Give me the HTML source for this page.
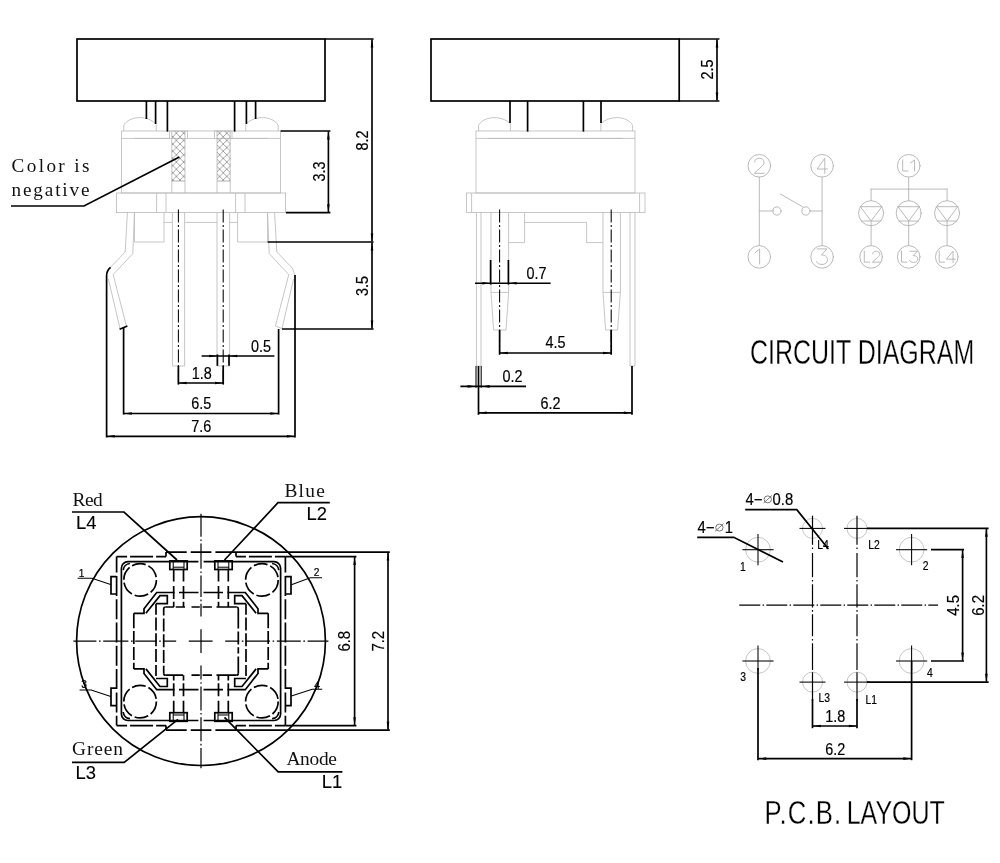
<!DOCTYPE html>
<html><head><meta charset="utf-8"><title>Tact switch drawing</title>
<style>
html,body{margin:0;padding:0;background:#fff;}
body{width:1000px;height:863px;overflow:hidden;font-family:"Liberation Sans",sans-serif;}
svg{display:block;filter:grayscale(1);}
.k{fill:none;stroke:#000;stroke-width:1.7;stroke-linecap:butt;stroke-linejoin:miter;}
.kt{fill:none;stroke:#000;stroke-width:1.05;}
.cl{fill:none;stroke:#000;stroke-width:1.2;}
.d{fill:none;stroke:#000;stroke-width:1.65;}
.g{fill:none;stroke:#bcbcbc;stroke-width:0.85;}
.h{fill:none;stroke:#909090;stroke-width:0.7;}
.c{fill:none;stroke:#b2b2b2;stroke-width:0.9;stroke-linecap:round;stroke-linejoin:round;}
.a{fill:#000;stroke:none;}
.t{font-family:"Liberation Sans",sans-serif;fill:#000;stroke:#000;stroke-width:0.18;}
.tn{font-family:"Liberation Sans",sans-serif;fill:#000;stroke:#000;stroke-width:0.12;}
.tt{font-family:"Liberation Sans",sans-serif;fill:#000;stroke:#fff;stroke-width:0.3;paint-order:fill stroke;}
.s{font-family:"Liberation Serif",serif;fill:#111;}
</style></head><body>
<svg width="1000" height="863" viewBox="0 0 1000 863">
<rect x="0" y="0" width="1000" height="863" fill="#fff"/>
<g id="v1">
<defs><pattern id="xh" width="7.2" height="7.2" patternUnits="userSpaceOnUse"><path d="M0,0 L7.2,7.2 M7.2,0 L0,7.2" stroke="#808080" stroke-width="0.7" fill="none"/></pattern></defs>
<path class="g" d="M123.8,131 V125.4 C126,120.6 133,117.6 139.6,117.6 C146,117.6 152.5,120 156.2,124.2 V131"/>
<path class="g" d="M278.2,131 V125.4 C276,120.6 269,117.6 262.4,117.6 C256,117.6 249.5,120 245.8,124.2 V131"/>
<rect class="g" x="121.4" y="131" width="159.2" height="62"/>
<line class="g" x1="121.4" y1="138.4" x2="169.6" y2="138.4"/>
<line class="g" x1="134" y1="138.4" x2="169.6" y2="138.4"/>
<line class="g" x1="187.4" y1="138.4" x2="214.4" y2="138.4"/>
<line class="g" x1="232" y1="138.4" x2="280.6" y2="138.4"/>
<line class="g" x1="232" y1="138.4" x2="268" y2="138.4"/>
<rect class="g" x="169.6" y="131" width="17.8" height="7.4"/>
<rect class="g" x="214.4" y="131" width="17.6" height="7.4"/>
<line class="g" x1="171.8" y1="131" x2="171.8" y2="193"/>
<line class="g" x1="185" y1="131" x2="185" y2="193"/>
<line class="g" x1="217" y1="131" x2="217" y2="193"/>
<line class="g" x1="230.2" y1="131" x2="230.2" y2="193"/>
<rect x="171.8" y="131" width="13.2" height="50" fill="url(#xh)" stroke="none"/>
<rect x="217" y="131" width="13.2" height="50" fill="url(#xh)" stroke="none"/>
<line class="h" x1="171.8" y1="181" x2="185" y2="181"/>
<line class="h" x1="217" y1="181" x2="230.2" y2="181"/>
<rect class="g" x="116.4" y="193" width="169.2" height="19.6"/>
<line class="g" x1="156.6" y1="193" x2="156.6" y2="212.6"/>
<line class="g" x1="166" y1="193" x2="166" y2="212.6"/>
<line class="g" x1="235.6" y1="193" x2="235.6" y2="212.6"/>
<line class="g" x1="245" y1="193" x2="245" y2="212.6"/>
<path class="g" d="M134.4,212.6 L134.4,242 L164,242 L164,212.6"/>
<path class="g" d="M237.6,212.6 L237.6,242 L267.6,242 L267.6,212.6"/>
<line class="g" x1="164" y1="222.4" x2="172.4" y2="222.4"/>
<line class="g" x1="184.6" y1="222.4" x2="217" y2="222.4"/>
<line class="g" x1="229.6" y1="222.4" x2="237.6" y2="222.4"/>
<path class="g" d="M172.4,212.6 L172.4,366 L184.6,366 L184.6,212.6"/>
<path class="g" d="M217,212.6 L217,366 L229.6,366 L229.6,212.6"/>
<path class="g" d="M127.4,212.6 L125.2,252 L110.4,267.4"/>
<path class="g" d="M134.5,212.6 L132.8,253.6 L113.2,274.6 L126.4,326"/>
<path class="g" d="M108.4,279 L120,328.5"/>
<path class="g" d="M274.6,212.6 L276.8,252 L292.4,268.2 L295,275"/>
<path class="g" d="M267.5,212.6 L269.2,253.6 L288.8,274.6 L275.4,326"/>
<path class="g" d="M293.6,279 L282,328.5 L275.4,326"/>
<rect class="k" x="77" y="39" width="248" height="62"/>
<line class="k" x1="325" y1="39" x2="373.6" y2="39"/>
<line class="k" x1="146.4" y1="101" x2="146.4" y2="119"/>
<line class="k" x1="155.6" y1="101" x2="155.6" y2="124"/>
<line class="k" x1="167.4" y1="101" x2="167.4" y2="131.6"/>
<line class="k" x1="234.6" y1="101" x2="234.6" y2="131.6"/>
<line class="k" x1="246.4" y1="101" x2="246.4" y2="124"/>
<line class="k" x1="255.6" y1="101" x2="255.6" y2="119"/>
<path class="k" d="M11,206 L84,206 L179.4,157"/>
<text class="s" x="11.5" y="172.4" font-size="19.2" textLength="78" lengthAdjust="spacing" xml:space="preserve">Color is</text>
<text class="s" x="11.5" y="195.6" font-size="19.2" textLength="78" lengthAdjust="spacing" xml:space="preserve">negative</text>
<path class="k" d="M110.6,267.4 Q106.6,270.5 106.6,276 V437.6"/>
<path class="k" d="M119.6,329.2 L127.4,326"/>
<line class="k" x1="123.6" y1="328" x2="123.6" y2="414.6"/>
<line class="k" x1="295" y1="275" x2="295" y2="437.6"/>
<line class="k" x1="278.6" y1="329" x2="278.6" y2="414.6"/>
<line class="kt" x1="178.4" y1="209.6" x2="178.4" y2="384.4" stroke-dasharray="13 2.5 2 2.5"/>
<line class="kt" x1="223.2" y1="209.6" x2="223.2" y2="384.4" stroke-dasharray="13 2.5 2 2.5"/>
<line class="k" x1="178.4" y1="366" x2="178.4" y2="384.6"/>
<line class="k" x1="223.2" y1="366" x2="223.2" y2="384.6"/>
<line class="k" x1="280.6" y1="131" x2="330.4" y2="131"/>
<line class="k" x1="286" y1="212.6" x2="330.4" y2="212.6"/>
<line class="d" x1="328.4" y1="131.4" x2="328.4" y2="212.2"/>
<path class="a" d="M328.4,131.4 L329.7,139.4 L327.1,139.4 Z"/>
<path class="a" d="M328.4,212.2 L327.1,204.2 L329.7,204.2 Z"/>
<text class="t" transform="translate(324.8,171.5) rotate(-90) scale(0.9,1)" font-size="16" text-anchor="middle">3.3</text>
<line class="k" x1="267.6" y1="242" x2="373.6" y2="242"/>
<line class="k" x1="282" y1="329" x2="373.6" y2="329"/>
<line class="d" x1="372" y1="39.4" x2="372" y2="241.6"/>
<path class="a" d="M372,39.4 L373.3,47.4 L370.7,47.4 Z"/>
<path class="a" d="M372,241.6 L370.7,233.6 L373.3,233.6 Z"/>
<line class="d" x1="372" y1="242.4" x2="372" y2="328.6"/>
<path class="a" d="M372,242.4 L373.3,250.4 L370.7,250.4 Z"/>
<path class="a" d="M372,328.6 L370.7,320.6 L373.3,320.6 Z"/>
<text class="t" transform="translate(367.8,140.5) rotate(-90) scale(0.9,1)" font-size="16" text-anchor="middle">8.2</text>
<text class="t" transform="translate(367.8,286) rotate(-90) scale(0.9,1)" font-size="16" text-anchor="middle">3.5</text>
<line class="k" x1="217.4" y1="354.4" x2="217.4" y2="365.8"/>
<line class="k" x1="229" y1="354.4" x2="229" y2="365.8"/>
<line class="d" x1="201.6" y1="356" x2="274.4" y2="356"/>
<path class="a" d="M217.2,356 L209.2,357.3 L209.2,354.7 Z"/>
<path class="a" d="M229.2,356 L237.2,354.7 L237.2,357.3 Z"/>
<text class="t" transform="translate(261,351.6) scale(0.9,1)" font-size="16" text-anchor="middle">0.5</text>
<line class="d" x1="178.6" y1="383" x2="223" y2="383"/>
<path class="a" d="M178.6,383 L186.6,381.7 L186.6,384.3 Z"/>
<path class="a" d="M223,383 L215,384.3 L215,381.7 Z"/>
<text class="t" transform="translate(201.8,379) scale(0.9,1)" font-size="16" text-anchor="middle">1.8</text>
<line class="d" x1="123.8" y1="413.5" x2="278.4" y2="413.5"/>
<path class="a" d="M123.8,413.5 L131.8,412.2 L131.8,414.8 Z"/>
<path class="a" d="M278.4,413.5 L270.4,414.8 L270.4,412.2 Z"/>
<text class="t" transform="translate(201.2,408.8) scale(0.9,1)" font-size="16" text-anchor="middle">6.5</text>
<line class="d" x1="106.8" y1="436.3" x2="294.8" y2="436.3"/>
<path class="a" d="M106.8,436.3 L114.8,435 L114.8,437.6 Z"/>
<path class="a" d="M294.8,436.3 L286.8,437.6 L286.8,435 Z"/>
<text class="t" transform="translate(201.2,432) scale(0.9,1)" font-size="16" text-anchor="middle">7.6</text>
</g>
<g id="v2">
<path class="g" d="M478.6,131 V125.4 C480.8,120.6 487.6,117.6 494.2,117.6 C500.4,117.6 506.6,119.8 510,123.4"/>
<path class="g" d="M632.6,131 V125.4 C630.4,120.6 623.6,117.6 617,117.6 C610.8,117.6 604.6,119.8 601.2,123.4"/>
<line class="g" x1="510.4" y1="123.4" x2="510.4" y2="131"/>
<line class="g" x1="600.8" y1="123.4" x2="600.8" y2="131"/>
<rect class="g" x="476" y="131" width="159" height="62"/>
<line class="g" x1="476" y1="138.4" x2="635" y2="138.4"/>
<line class="g" x1="488" y1="138.4" x2="623" y2="138.4"/>
<rect class="g" x="466.4" y="193" width="178.6" height="19.4"/>
<line class="g" x1="471.6" y1="193" x2="471.6" y2="212.4"/>
<line class="g" x1="639.6" y1="193" x2="639.6" y2="212.4"/>
<path class="g" d="M476.4,212.4 L476.4,366 L481,366 L481,212.4"/>
<path class="g" d="M630,212.4 L630,366 L635,366 L635,212.4"/>
<path class="g" d="M491,212.4 L491,292.4 L493.6,330 L506,330 L508.6,292.4 L508.6,212.4"/>
<line class="g" x1="491" y1="292.4" x2="508.6" y2="292.4"/>
<path class="g" d="M603,212.4 L603,292.4 L605.6,330 L617.6,330 L620.4,292.4 L620.4,212.4"/>
<line class="g" x1="603" y1="292.4" x2="620.4" y2="292.4"/>
<path class="g" d="M508.6,242.6 L524.6,242.6 L524.6,212.4"/>
<path class="g" d="M524.6,222.4 L586.6,222.4 L586.6,242.6 L603,242.6"/>
<rect class="k" x="431" y="39" width="248.2" height="62"/>
<line class="k" x1="679.2" y1="39" x2="719.4" y2="39"/>
<line class="k" x1="679.2" y1="101" x2="719.4" y2="101"/>
<line class="d" x1="717" y1="39.4" x2="717" y2="100.6"/>
<path class="a" d="M717,39.4 L718.3,47.4 L715.7,47.4 Z"/>
<path class="a" d="M717,100.6 L715.7,92.6 L718.3,92.6 Z"/>
<text class="t" transform="translate(713,69.6) rotate(-90) scale(0.9,1)" font-size="16" text-anchor="middle">2.5</text>
<line class="k" x1="510" y1="101" x2="510" y2="123"/>
<line class="k" x1="527.6" y1="101" x2="527.6" y2="131.6"/>
<line class="k" x1="583.4" y1="101" x2="583.4" y2="131.6"/>
<line class="k" x1="601" y1="101" x2="601" y2="123"/>
<line class="kt" x1="499.6" y1="209.4" x2="499.6" y2="354.4" stroke-dasharray="13 2.5 2 2.5"/>
<line class="kt" x1="611.2" y1="209.4" x2="611.2" y2="354.4" stroke-dasharray="13 2.5 2 2.5"/>
<line class="k" x1="499.6" y1="330" x2="499.6" y2="354.6"/>
<line class="k" x1="611.2" y1="330" x2="611.2" y2="354.6"/>
<line class="k" x1="490.6" y1="260" x2="490.6" y2="284.6"/>
<line class="k" x1="508.4" y1="260" x2="508.4" y2="284.6"/>
<line class="d" x1="475" y1="283.2" x2="550.6" y2="283.2"/>
<path class="a" d="M490.4,283.2 L482.4,284.5 L482.4,281.9 Z"/>
<path class="a" d="M508.6,283.2 L516.6,281.9 L516.6,284.5 Z"/>
<text class="t" transform="translate(536.6,279) scale(0.9,1)" font-size="16" text-anchor="middle">0.7</text>
<line class="d" x1="499.8" y1="353" x2="611" y2="353"/>
<path class="a" d="M499.8,353 L507.8,351.7 L507.8,354.3 Z"/>
<path class="a" d="M611,353 L603,354.3 L603,351.7 Z"/>
<text class="t" transform="translate(555.6,348.4) scale(0.9,1)" font-size="16" text-anchor="middle">4.5</text>
<line class="kt" x1="476" y1="366" x2="476" y2="387.8"/>
<line class="kt" x1="478.5" y1="366" x2="478.5" y2="387.8"/>
<line class="kt" x1="481.2" y1="366" x2="481.2" y2="387.8"/>
<line class="k" x1="478.5" y1="366" x2="478.5" y2="414.8"/>
<line class="k" x1="632" y1="366" x2="632" y2="414.8"/>
<line class="d" x1="460.4" y1="386.4" x2="526" y2="386.4"/>
<path class="a" d="M475.6,386.4 L467.6,387.7 L467.6,385.1 Z"/>
<path class="a" d="M481.6,386.4 L489.6,385.1 L489.6,387.7 Z"/>
<text class="t" transform="translate(512.6,382.3) scale(0.9,1)" font-size="16" text-anchor="middle">0.2</text>
<line class="d" x1="478.7" y1="412.8" x2="631.8" y2="412.8"/>
<path class="a" d="M478.7,412.8 L486.7,411.5 L486.7,414.1 Z"/>
<path class="a" d="M631.8,412.8 L623.8,414.1 L623.8,411.5 Z"/>
<text class="t" transform="translate(550.4,408.7) scale(0.9,1)" font-size="16" text-anchor="middle">6.2</text>
</g>
<g id="cir">
<circle class="c" cx="759.3" cy="165.8" r="11.3"/>
<circle class="c" cx="759.3" cy="256.9" r="11.3"/>
<circle class="c" cx="822.1" cy="165.8" r="11.3"/>
<circle class="c" cx="822.1" cy="256.9" r="11.3"/>
<line class="c" x1="759.3" y1="177.1" x2="759.3" y2="245.6"/>
<line class="c" x1="822.1" y1="177.1" x2="822.1" y2="245.6"/>
<line class="c" x1="759.3" y1="211" x2="772.9" y2="211"/>
<circle class="c" cx="777" cy="211" r="4.1"/>
<circle class="c" cx="806" cy="211" r="4.1"/>
<line class="c" x1="810.1" y1="211" x2="822.1" y2="211"/>
<line class="c" x1="780.4" y1="194" x2="803.3" y2="207.2"/>
<path class="c" transform="translate(754.3,158.3) scale(1,1)" vector-effect="non-scaling-stroke" d="M0.4,3.6 C0.4,1.2 2.4,0 5,0 C7.8,0 9.7,1.6 9.7,4 C9.7,6 8.4,7.4 0,15 H10"/>
<path class="c" transform="translate(817.1,158.3) scale(1.04,1.01)" vector-effect="non-scaling-stroke" d="M7.4,15 V0 L0,10.6 H10"/>
<path class="c" transform="translate(755.2,248.9) scale(1,1.01)" vector-effect="non-scaling-stroke" d="M0,3.8 L4.4,0 V15"/>
<path class="c" transform="translate(816.6,248.9) scale(1.08,1.04)" vector-effect="non-scaling-stroke" d="M0.6,0 H9.6 L4.4,5.9 C7.8,5.6 10,7.6 10,10.4 C10,13.2 8,15 5,15 C2.6,15 0.8,14 0,12.2"/>
<circle class="c" cx="908.7" cy="165.8" r="11.3"/>
<line class="c" x1="908.7" y1="177.1" x2="908.7" y2="189.1"/>
<line class="c" x1="871.1" y1="189.1" x2="947.1" y2="189.1"/>
<circle class="c" cx="871.1" cy="213.2" r="12.5"/>
<line class="c" x1="871.1" y1="189.1" x2="871.1" y2="200.7"/>
<line class="c" x1="860.42" y1="206.7" x2="881.78" y2="206.7"/>
<line class="c" x1="861.33" y1="221" x2="880.87" y2="221"/>
<path class="c" d="M860.42,206.7 L871.1,221 L881.78,206.7"/>
<line class="c" x1="871.1" y1="221" x2="871.1" y2="245.6"/>
<circle class="c" cx="908.7" cy="213.2" r="12.5"/>
<line class="c" x1="908.7" y1="189.1" x2="908.7" y2="200.7"/>
<line class="c" x1="898.02" y1="206.7" x2="919.38" y2="206.7"/>
<line class="c" x1="898.93" y1="221" x2="918.47" y2="221"/>
<path class="c" d="M898.02,206.7 L908.7,221 L919.38,206.7"/>
<line class="c" x1="908.7" y1="221" x2="908.7" y2="245.6"/>
<circle class="c" cx="947.1" cy="213.2" r="12.5"/>
<line class="c" x1="947.1" y1="189.1" x2="947.1" y2="200.7"/>
<line class="c" x1="936.42" y1="206.7" x2="957.78" y2="206.7"/>
<line class="c" x1="937.33" y1="221" x2="956.87" y2="221"/>
<path class="c" d="M936.42,206.7 L947.1,221 L957.78,206.7"/>
<line class="c" x1="947.1" y1="221" x2="947.1" y2="245.6"/>
<circle class="c" cx="871.1" cy="256.9" r="11.3"/>
<circle class="c" cx="908.7" cy="256.9" r="11.3"/>
<circle class="c" cx="946.8" cy="256.9" r="11.3"/>
<path class="c" transform="translate(902.7,160) scale(0.53,0.73)" vector-effect="non-scaling-stroke" d="M0,0 V15 H10"/>
<path class="c" transform="translate(910.4,160) scale(0.95,0.73)" vector-effect="non-scaling-stroke" d="M0,3.8 L4.4,0 V15"/>
<path class="c" transform="translate(864.3,251.2) scale(0.53,0.73)" vector-effect="non-scaling-stroke" d="M0,0 V15 H10"/>
<path class="c" transform="translate(872.3,251.2) scale(0.78,0.73)" vector-effect="non-scaling-stroke" d="M0.4,3.6 C0.4,1.2 2.4,0 5,0 C7.8,0 9.7,1.6 9.7,4 C9.7,6 8.4,7.4 0,15 H10"/>
<path class="c" transform="translate(901.5,251.2) scale(0.53,0.73)" vector-effect="non-scaling-stroke" d="M0,0 V15 H10"/>
<path class="c" transform="translate(909.5,251.2) scale(0.83,0.75)" vector-effect="non-scaling-stroke" d="M0.6,0 H9.6 L4.4,5.9 C7.8,5.6 10,7.6 10,10.4 C10,13.2 8,15 5,15 C2.6,15 0.8,14 0,12.2"/>
<path class="c" transform="translate(939.2,251.2) scale(0.53,0.73)" vector-effect="non-scaling-stroke" d="M0,0 V15 H10"/>
<path class="c" transform="translate(946.4,251.2) scale(0.9,0.75)" vector-effect="non-scaling-stroke" d="M7.4,15 V0 L0,10.6 H10"/>
<text class="tt" transform="translate(750,364.2) scale(0.73,1)" font-size="34.2" text-anchor="start" id="t_cd">CIRCUIT DIAGRAM</text>
</g>
<g id="v3">
<circle class="k" cx="201" cy="641.1" r="124.4"/>
<line class="k" x1="166" y1="552.1" x2="236" y2="552.1" stroke-dasharray="20.7 4"/>
<line class="k" x1="166" y1="552.1" x2="166" y2="556.6"/>
<line class="k" x1="116.6" y1="556.6" x2="166" y2="556.6" stroke-dasharray="10.5 3 23 3 10"/>
<line class="k" x1="236" y1="552.1" x2="236" y2="556.6"/>
<line class="k" x1="285.4" y1="556.6" x2="236" y2="556.6" stroke-dasharray="10.5 3 23 3 10"/>
<line class="k" x1="166" y1="730.1" x2="236" y2="730.1" stroke-dasharray="20.7 4"/>
<line class="k" x1="166" y1="730.1" x2="166" y2="725.6"/>
<line class="k" x1="116.6" y1="725.6" x2="166" y2="725.6" stroke-dasharray="10.5 3 23 3 10"/>
<line class="k" x1="236" y1="730.1" x2="236" y2="725.6"/>
<line class="k" x1="285.4" y1="725.6" x2="236" y2="725.6" stroke-dasharray="10.5 3 23 3 10"/>
<line class="k" x1="116.6" y1="556.6" x2="116.6" y2="725.6" stroke-dasharray="20 3.3" stroke-dashoffset="4"/>
<line class="k" x1="285.4" y1="556.6" x2="285.4" y2="725.6" stroke-dasharray="20 3.3" stroke-dashoffset="4"/>
<path class="k" d="M127.9,561.7 H274.1 A6.5,6.5 0 0 1 280.6,568.2 V714 A6.5,6.5 0 0 1 274.1,720.5 H127.9 A6.5,6.5 0 0 1 121.4,714 V568.2 A6.5,6.5 0 0 1 127.9,561.7 Z"/>
<line x1="198.4" y1="561.7" x2="203.6" y2="561.7" stroke="#fff" stroke-width="3"/>
<line x1="198.4" y1="720.5" x2="203.6" y2="720.5" stroke="#fff" stroke-width="3"/>
<line class="cl" x1="73.4" y1="641.1" x2="328.4" y2="641.1" stroke-dasharray="23 2.6 1.6 2.6 25.2 2.6 1.6 2.6 21.4 2.6 1.6 2.6 12.8 12.6 23.8 12.6 14 2.6 1.6 2.6 24 2.6 1.6 2.6 24 2.6 1.6 2.6 21"/>
<line class="cl" x1="201" y1="513.8" x2="201" y2="768.2" stroke-dasharray="23 2.6 1.6 2.6 25.2 2.6 1.6 2.6 21.4 2.6 1.6 2.6 12.8 12.6 23.8 12.6 14 2.6 1.6 2.6 24 2.6 1.6 2.6 24 2.6 1.6 2.6 21"/>
<path class="k" d="M278.8,712 A7.5,7.5 0 0 1 272.1,718.7"/>
<circle class="k" cx="140.1" cy="579.9" r="16.3" stroke-dasharray="14 3"/>
<rect class="k" x="214.8" y="712.7" width="17.4" height="8.6"/>
<line class="kt" x1="228.8" y1="721.3" x2="228.8" y2="712.7"/>
<line class="kt" x1="218" y1="721.3" x2="218" y2="712.7"/>
<line class="kt" x1="228.8" y1="715" x2="218" y2="715"/>
<line class="k" x1="228.3" y1="712.7" x2="228.3" y2="675.2" stroke-dasharray="12 4.5 13 2.8 13 2.8"/>
<line class="k" x1="218.5" y1="712.7" x2="218.5" y2="675.2" stroke-dasharray="12 4.5 13 2.8 13 2.8"/>
<path class="k" d="M268.2,668.9 L258,668.9 L258,673.4 L245.3,689.7 L227.5,689.7"/>
<path class="k" d="M256.1,668.9 L242,686.5 L234.7,686.5 L234.7,678.5 L246,678.5"/>
<path class="k" d="M285.4,705.6 L291,705.6 L291,688.2 L285.4,688.2"/>
<path class="k" d="M278.8,570.2 A7.5,7.5 0 0 0 272.1,563.5"/>
<circle class="k" cx="140.1" cy="701.6" r="16.3" stroke-dasharray="14 3"/>
<rect class="k" x="214.8" y="560.9" width="17.4" height="8.6"/>
<line class="kt" x1="228.8" y1="560.9" x2="228.8" y2="569.5"/>
<line class="kt" x1="218" y1="560.9" x2="218" y2="569.5"/>
<line class="kt" x1="228.8" y1="567.2" x2="218" y2="567.2"/>
<line class="k" x1="228.3" y1="569.5" x2="228.3" y2="607" stroke-dasharray="12 4.5 13 2.8 13 2.8"/>
<line class="k" x1="218.5" y1="569.5" x2="218.5" y2="607" stroke-dasharray="12 4.5 13 2.8 13 2.8"/>
<path class="k" d="M268.2,613.3 L258,613.3 L258,608.8 L245.3,592.5 L227.5,592.5"/>
<path class="k" d="M256.1,613.3 L242,595.7 L234.7,595.7 L234.7,603.7 L246,603.7"/>
<path class="k" d="M285.4,576.6 L291,576.6 L291,594 L285.4,594"/>
<path class="k" d="M123.2,712 A7.5,7.5 0 0 0 129.9,718.7"/>
<circle class="k" cx="261.9" cy="579.9" r="16.3" stroke-dasharray="14 3"/>
<rect class="k" x="169.8" y="712.7" width="17.4" height="8.6"/>
<line class="kt" x1="173.2" y1="721.3" x2="173.2" y2="712.7"/>
<line class="kt" x1="184" y1="721.3" x2="184" y2="712.7"/>
<line class="kt" x1="173.2" y1="715" x2="184" y2="715"/>
<line class="k" x1="173.7" y1="712.7" x2="173.7" y2="675.2" stroke-dasharray="12 4.5 13 2.8 13 2.8"/>
<line class="k" x1="183.5" y1="712.7" x2="183.5" y2="675.2" stroke-dasharray="12 4.5 13 2.8 13 2.8"/>
<path class="k" d="M133.8,668.9 L144,668.9 L144,673.4 L156.7,689.7 L174.5,689.7"/>
<path class="k" d="M145.9,668.9 L160,686.5 L167.3,686.5 L167.3,678.5 L156,678.5"/>
<path class="k" d="M116.6,705.6 L111,705.6 L111,688.2 L116.6,688.2"/>
<path class="k" d="M123.2,570.2 A7.5,7.5 0 0 1 129.9,563.5"/>
<circle class="k" cx="261.9" cy="701.6" r="16.3" stroke-dasharray="14 3"/>
<rect class="k" x="169.8" y="560.9" width="17.4" height="8.6"/>
<line class="kt" x1="173.2" y1="560.9" x2="173.2" y2="569.5"/>
<line class="kt" x1="184" y1="560.9" x2="184" y2="569.5"/>
<line class="kt" x1="173.2" y1="567.2" x2="184" y2="567.2"/>
<line class="k" x1="173.7" y1="569.5" x2="173.7" y2="607" stroke-dasharray="12 4.5 13 2.8 13 2.8"/>
<line class="k" x1="183.5" y1="569.5" x2="183.5" y2="607" stroke-dasharray="12 4.5 13 2.8 13 2.8"/>
<path class="k" d="M133.8,613.3 L144,613.3 L144,608.8 L156.7,592.5 L174.5,592.5"/>
<path class="k" d="M145.9,613.3 L160,595.7 L167.3,595.7 L167.3,603.7 L156,603.7"/>
<path class="k" d="M116.6,576.6 L111,576.6 L111,594 L116.6,594"/>
<line class="k" x1="174.5" y1="689.7" x2="227.5" y2="689.7" stroke-dasharray="0 4.5 19.5 5 19.5 4.5"/>
<line class="k" x1="174.5" y1="592.5" x2="227.5" y2="592.5" stroke-dasharray="0 4.5 19.5 5 19.5 4.5"/>
<line class="k" x1="165.7" y1="675.2" x2="236.3" y2="675.2" stroke-dasharray="17.5 8.3 8.3 2.8 9.3 4.6 19.9"/>
<line class="k" x1="165.7" y1="607" x2="236.3" y2="607" stroke-dasharray="8.2 1.8 9.3 6.5 8.3 2.8 9.3 4.6 19.9"/>
<line class="k" x1="238.3" y1="609" x2="238.3" y2="673.2" stroke-dasharray="19.6 2.8 13 2.8 6.4 2.8 16.8"/>
<path class="k" d="M238.3,673.2 A2,2 0 0 1 236.3,675.2"/>
<path class="k" d="M238.3,609 A2,2 0 0 0 236.3,607"/>
<line class="k" x1="268.2" y1="613.3" x2="268.2" y2="668.9" stroke-dasharray="15 2.8 13 2.8 13 2.8"/>
<line class="k" x1="246" y1="603.7" x2="246" y2="678.5" stroke-dasharray="11 2.8 13 2.8 13 2.8 13 2.8"/>
<line class="k" x1="163.7" y1="609" x2="163.7" y2="673.2" stroke-dasharray="6.6 2.8 13 2.8 13 2.8 13 2.8 7.5"/>
<path class="k" d="M163.7,673.2 A2,2 0 0 0 165.7,675.2"/>
<path class="k" d="M163.7,609 A2,2 0 0 1 165.7,607"/>
<line class="k" x1="133.8" y1="613.3" x2="133.8" y2="668.9" stroke-dasharray="15 2.8 13 2.8 13 2.8"/>
<line class="k" x1="156" y1="603.7" x2="156" y2="678.5" stroke-dasharray="11 2.8 13 2.8 13 2.8 13 2.8"/>
<line class="k" x1="236" y1="552.1" x2="389.8" y2="552.1"/>
<line class="k" x1="236" y1="730.1" x2="389.8" y2="730.1"/>
<line class="k" x1="285.4" y1="556.6" x2="356.4" y2="556.6"/>
<line class="k" x1="285.4" y1="725.6" x2="356.4" y2="725.6"/>
<line class="d" x1="354.6" y1="557" x2="354.6" y2="725.2"/>
<path class="a" d="M354.6,557 L355.9,565 L353.3,565 Z"/>
<path class="a" d="M354.6,725.2 L353.3,717.2 L355.9,717.2 Z"/>
<line class="d" x1="388" y1="552.5" x2="388" y2="729.7"/>
<path class="a" d="M388,552.5 L389.3,560.5 L386.7,560.5 Z"/>
<path class="a" d="M388,729.7 L386.7,721.7 L389.3,721.7 Z"/>
<text class="t" transform="translate(350.2,641.2) rotate(-90) scale(0.9,1)" font-size="16.6" text-anchor="middle">6.8</text>
<text class="t" transform="translate(384.2,641.2) rotate(-90) scale(0.9,1)" font-size="16.6" text-anchor="middle">7.2</text>
<text class="s" x="72.5" y="506" font-size="19.4" textLength="30.3" lengthAdjust="spacing" xml:space="preserve">Red</text>
<path class="k" d="M72,512 L124,512 L177,560"/>
<text class="tn" transform="translate(76,529)" font-size="18.4" text-anchor="start">L4</text>
<text class="s" x="284.4" y="497.1" font-size="19.4" textLength="40.4" lengthAdjust="spacing" xml:space="preserve">Blue</text>
<path class="k" d="M329.8,502.7 L278,502.7 L224.5,560"/>
<text class="tn" transform="translate(306.6,520)" font-size="18.4" text-anchor="start">L2</text>
<text class="s" x="72" y="755.3" font-size="19.4" textLength="51" lengthAdjust="spacing" xml:space="preserve">Green</text>
<path class="k" d="M72,762.4 L124.2,762.4 L178,719.4"/>
<text class="tn" transform="translate(75.4,778.5)" font-size="18.4" text-anchor="start">L3</text>
<text class="s" x="286.4" y="764.9" font-size="19.4" textLength="50.5" lengthAdjust="spacing" xml:space="preserve">Anode</text>
<path class="k" d="M342.4,771.9 L278.2,771.9 L224.5,717.4"/>
<text class="tn" transform="translate(321.8,788.1)" font-size="18.4" text-anchor="start">L1</text>
<text class="t" transform="translate(81.6,577.2) scale(0.9,1)" font-size="11.4" text-anchor="middle">1</text>
<path class="kt" d="M77.6,578.2 L92,578.2 L110.6,584.6"/>
<text class="t" transform="translate(316.6,576.4) scale(0.9,1)" font-size="11.4" text-anchor="middle">2</text>
<path class="kt" d="M322,577.8 L310.3,577.8 L291.4,584.7"/>
<text class="t" transform="translate(84.2,688) scale(0.9,1)" font-size="11.4" text-anchor="middle">3</text>
<path class="kt" d="M79.6,690 L91.2,690 L110.8,696.4"/>
<text class="t" transform="translate(317,688.6) scale(0.9,1)" font-size="11.4" text-anchor="middle">4</text>
<path class="kt" d="M322.2,689.2 L312.2,689.2 L291.4,696.1"/>
</g>
<g id="pcb">
<circle class="g" cx="758" cy="549.7" r="12.4"/>
<line class="kt" x1="742.4" y1="549.7" x2="773.6" y2="549.7"/>
<circle class="g" cx="911.6" cy="549.7" r="12.4"/>
<line class="kt" x1="896" y1="549.7" x2="927.2" y2="549.7"/>
<circle class="g" cx="758" cy="661" r="12.4"/>
<line class="kt" x1="742.4" y1="661" x2="773.6" y2="661"/>
<circle class="g" cx="911.6" cy="661" r="12.4"/>
<line class="kt" x1="896" y1="661" x2="927.2" y2="661"/>
<circle class="g" cx="812.5" cy="528.4" r="10"/>
<line class="kt" x1="799.5" y1="528.4" x2="825.5" y2="528.4"/>
<circle class="g" cx="857" cy="528.4" r="10"/>
<line class="kt" x1="844" y1="528.4" x2="870" y2="528.4"/>
<circle class="g" cx="812.5" cy="682.1" r="10"/>
<line class="kt" x1="799.5" y1="682.1" x2="825.5" y2="682.1"/>
<circle class="g" cx="857" cy="682.1" r="10"/>
<line class="kt" x1="844" y1="682.1" x2="870" y2="682.1"/>
<line class="kt" x1="758" y1="534" x2="758" y2="565.2"/>
<line class="kt" x1="911.6" y1="534" x2="911.6" y2="565.2"/>
<line class="kt" x1="758" y1="645.6" x2="758" y2="670"/>
<line class="kt" x1="911.6" y1="645.6" x2="911.6" y2="670"/>
<line class="cl" x1="739.3" y1="605.2" x2="938" y2="605.2" stroke-dasharray="21 2.3 1.4 2.3"/>
<line class="cl" x1="812.5" y1="515.8" x2="812.5" y2="701" stroke-dasharray="29 2.7 1.6 3.8 24.3 2.7 1.6 2.7 23.2 2.7 1.6 2.6 22 2.7 1.6 2.7 26.7 2.3 28.7"/>
<line class="cl" x1="857" y1="515.8" x2="857" y2="701" stroke-dasharray="29 2.7 1.6 3.8 24.3 2.7 1.6 2.7 23.2 2.7 1.6 2.6 22 2.7 1.6 2.7 26.7 2.3 28.7"/>
<line class="k" x1="931" y1="549.7" x2="964" y2="549.7"/>
<line class="k" x1="931" y1="661" x2="964" y2="661"/>
<line class="d" x1="962.6" y1="550.1" x2="962.6" y2="660.6"/>
<path class="a" d="M962.6,550.1 L963.9,558.1 L961.3,558.1 Z"/>
<path class="a" d="M962.6,660.6 L961.3,652.6 L963.9,652.6 Z"/>
<text class="t" transform="translate(959.2,605.4) rotate(-90) scale(0.9,1)" font-size="16.6" text-anchor="middle">4.5</text>
<line class="d" x1="867" y1="528.4" x2="988.6" y2="528.4"/>
<line class="d" x1="867" y1="682.1" x2="988.6" y2="682.1"/>
<line class="d" x1="986.4" y1="528.8" x2="986.4" y2="681.7"/>
<path class="a" d="M986.4,528.8 L987.7,536.8 L985.1,536.8 Z"/>
<path class="a" d="M986.4,681.7 L985.1,673.7 L987.7,673.7 Z"/>
<text class="t" transform="translate(983.8,605.4) rotate(-90) scale(0.9,1)" font-size="16.6" text-anchor="middle">6.2</text>
<line class="k" x1="812.5" y1="699" x2="812.5" y2="728.2"/>
<line class="k" x1="857" y1="699" x2="857" y2="728.2"/>
<line class="d" x1="812.8" y1="726" x2="856.8" y2="726"/>
<path class="a" d="M812.8,726 L820.8,724.7 L820.8,727.3 Z"/>
<path class="a" d="M856.8,726 L848.8,727.3 L848.8,724.7 Z"/>
<text class="t" transform="translate(835.2,722) scale(0.9,1)" font-size="16" text-anchor="middle">1.8</text>
<line class="k" x1="758" y1="668" x2="758" y2="760.2"/>
<line class="k" x1="911.6" y1="661" x2="911.6" y2="760.2"/>
<line class="d" x1="758.3" y1="758.6" x2="911.3" y2="758.6"/>
<path class="a" d="M758.3,758.6 L766.3,757.3 L766.3,759.9 Z"/>
<path class="a" d="M911.3,758.6 L903.3,759.9 L903.3,757.3 Z"/>
<text class="t" transform="translate(835.2,754.5) scale(0.9,1)" font-size="16" text-anchor="middle">6.2</text>
<path class="k" d="M745.2,509.6 L796.8,509.6 L828.4,549"/>
<path class="k" d="M697.2,537.3 L733.8,537.3 L783,562"/>
<text class="t" transform="translate(745.6,505) scale(0.95,1)" font-size="15.6" text-anchor="start" id="c1a">4−</text>
<text class="t" transform="translate(772.6,505) scale(0.95,1)" font-size="15.6" text-anchor="start" id="c1b">0.8</text>
<ellipse cx="767.8" cy="499.4" rx="3.7" ry="3.5" fill="none" stroke="#6a6a6a" stroke-width="0.9"/>
<line x1="763.6" y1="503" x2="772" y2="495.4" stroke="#6a6a6a" stroke-width="0.9"/>
<text class="t" transform="translate(697.6,533) scale(0.95,1)" font-size="15.6" text-anchor="start" id="c2a">4−</text>
<text class="t" transform="translate(724.8,533) scale(0.95,1)" font-size="15.6" text-anchor="start" id="c2b">1</text>
<ellipse cx="719.4" cy="527.6" rx="3.7" ry="3.5" fill="none" stroke="#6a6a6a" stroke-width="0.9"/>
<line x1="715.2" y1="531.2" x2="723.6" y2="523.6" stroke="#6a6a6a" stroke-width="0.9"/>
<text class="t" transform="translate(742.8,571) scale(0.85,1)" font-size="12.2" text-anchor="middle">1</text>
<text class="t" transform="translate(925.6,570) scale(0.85,1)" font-size="12.2" text-anchor="middle">2</text>
<text class="t" transform="translate(743.2,680.6) scale(0.85,1)" font-size="12.2" text-anchor="middle">3</text>
<text class="t" transform="translate(929.8,676.7) scale(0.85,1)" font-size="12.2" text-anchor="middle">4</text>
<text class="t" transform="translate(823,549.4) scale(0.85,1)" font-size="12.2" text-anchor="middle">L4</text>
<text class="t" transform="translate(874,549.4) scale(0.85,1)" font-size="12.2" text-anchor="middle">L2</text>
<text class="t" transform="translate(824.2,702.4) scale(0.85,1)" font-size="12.2" text-anchor="middle">L3</text>
<text class="t" transform="translate(871.2,703.7) scale(0.85,1)" font-size="12.2" text-anchor="middle">L1</text>
<text class="tt" transform="translate(764.6,824.4) scale(0.76,1)" font-size="33.8" text-anchor="start" id="t_pcb" letter-spacing="1.5">P.C.B.</text>
<text class="tt" transform="translate(846.7,824.4) scale(0.74,1)" font-size="33.8" text-anchor="start" id="t_pcb2">LAYOUT</text>
</g>
</svg>
</body></html>
